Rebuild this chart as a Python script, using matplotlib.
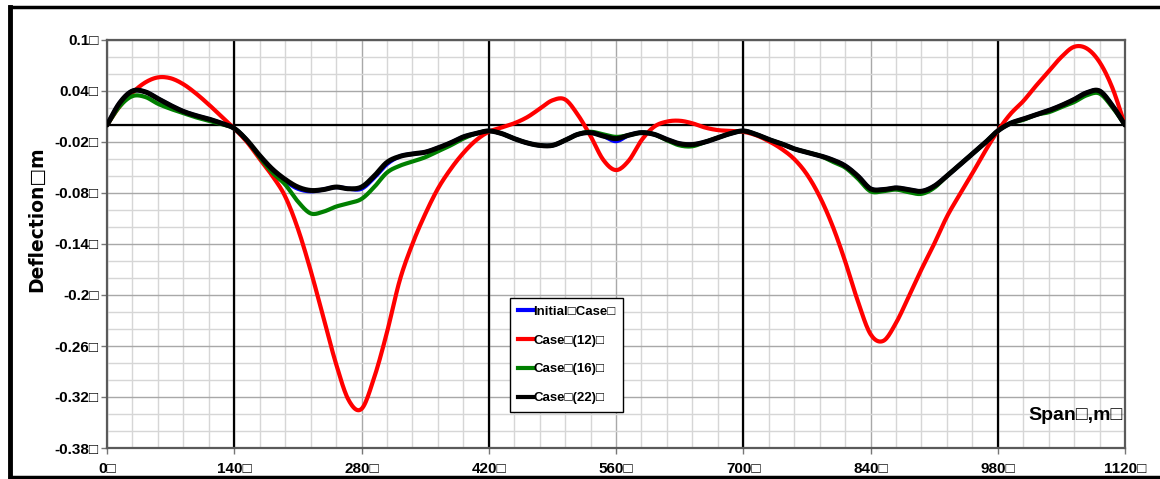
import numpy as np
import matplotlib
matplotlib.use('Agg')
import matplotlib.pyplot as plt
from matplotlib.lines import Line2D
from matplotlib.ticker import MultipleLocator

# span positions (m), every 14 m
span = np.arange(0, 1121, 14)

case_22 = [0.000, 0.026, 0.040, 0.039, 0.031, 0.023, 0.016, 0.011, 0.007, 0.002, -0.004,
           -0.018, -0.036, -0.052, -0.064, -0.073, -0.077, -0.076, -0.073, -0.075, -0.073,
           -0.060, -0.044, -0.037, -0.034, -0.032, -0.027, -0.021, -0.014, -0.010, -0.007,
           -0.010, -0.016, -0.021, -0.024, -0.024, -0.018, -0.011, -0.009, -0.013, -0.016,
           -0.012, -0.009, -0.011, -0.017, -0.022, -0.023, -0.020, -0.015, -0.010, -0.007,
           -0.011, -0.017, -0.022, -0.028, -0.032, -0.036, -0.041, -0.048, -0.060, -0.075,
           -0.076, -0.074, -0.076, -0.078, -0.072, -0.060, -0.047, -0.034, -0.021, -0.007,
           0.002, 0.007, 0.012, 0.017, 0.023, 0.030, 0.038, 0.040, 0.023, 0.000]

initial = list(case_22)
for i, v in {12: -0.038, 13: -0.055, 14: -0.066, 15: -0.075, 16: -0.078,
             20: -0.075, 21: -0.062, 22: -0.046, 40: -0.019}.items():
    initial[i] = v

case_16 = list(case_22)
for i, v in {1: 0.022, 2: 0.034, 3: 0.033, 4: 0.025, 5: 0.019, 6: 0.014, 7: 0.009,
             8: 0.005, 9: 0.001, 12: -0.038, 13: -0.056, 14: -0.070, 15: -0.090,
             16: -0.104, 17: -0.102, 18: -0.096, 19: -0.092, 20: -0.087, 21: -0.073,
             22: -0.056, 23: -0.048, 24: -0.043, 25: -0.038, 26: -0.031, 27: -0.024,
             28: -0.016, 38: -0.008, 39: -0.011, 40: -0.014, 44: -0.018, 45: -0.024,
             46: -0.025, 57: -0.043, 58: -0.050, 59: -0.063, 60: -0.078, 61: -0.078,
             62: -0.076, 63: -0.079, 64: -0.081, 65: -0.074, 72: 0.006, 74: 0.015,
             75: 0.021, 76: 0.027, 77: 0.035, 78: 0.037, 79: 0.021}.items():
    case_16[i] = v

case_12 = [0.000, 0.022, 0.038, 0.050, 0.056, 0.055, 0.048, 0.037, 0.024, 0.010, -0.004,
           -0.020, -0.040, -0.060, -0.084, -0.122, -0.171, -0.226, -0.281, -0.324, -0.334,
           -0.297, -0.244, -0.183, -0.140, -0.105, -0.075, -0.052, -0.033, -0.018, -0.008,
           -0.003, 0.002, 0.009, 0.019, 0.029, 0.030, 0.012, -0.013, -0.041, -0.053,
           -0.042, -0.018, -0.002, 0.004, 0.005, 0.002, -0.003, -0.006, -0.007, -0.008,
           -0.012, -0.019, -0.028, -0.040, -0.058, -0.084, -0.118, -0.160, -0.207, -0.246,
           -0.254, -0.233, -0.202, -0.170, -0.140, -0.108, -0.082, -0.057, -0.031, -0.007,
           0.013, 0.028, 0.046, 0.063, 0.080, 0.092, 0.090, 0.074, 0.044, 0.000]

labels = ['Initial\u25a1Case\u25a1', 'Case\u25a1(12)\u25a1', 'Case\u25a1(16)\u25a1', 'Case\u25a1(22)\u25a1']
colors = ['#0000ff', '#ff0000', '#008000', '#000000']
y_ticks = [0.1, 0.04, -0.02, -0.08, -0.14, -0.2, -0.26, -0.32, -0.38]
y_tick_labels = ['0.1', '0.04', '-0.02', '-0.08', '-0.14', '-0.2', '-0.26', '-0.32', '-0.38']
x_ticks = [0, 140, 280, 420, 560, 700, 840, 980, 1120]
piers = [140, 420, 700, 980]

FONT = ['Liberation Sans Narrow', 'Liberation Sans', 'DejaVu Sans']


def smooth(x, y, n=12):
    # Catmull-Rom curve through the points, like a smoothed Excel line
    y = np.asarray(y, dtype=float)
    p = np.concatenate([[2 * y[0] - y[1]], y, [2 * y[-1] - y[-2]]])
    xs, ys = [], []
    t = np.linspace(0, 1, n, endpoint=False)
    for i in range(len(y) - 1):
        p0, p1, p2, p3 = p[i], p[i + 1], p[i + 2], p[i + 3]
        ys.append(0.5 * (2 * p1 + (-p0 + p2) * t + (2 * p0 - 5 * p1 + 4 * p2 - p3) * t ** 2
                         + (-p0 + 3 * p1 - 3 * p2 + p3) * t ** 3))
        xs.append(x[i] + (x[i + 1] - x[i]) * t)
    xs.append([x[-1]])
    ys.append([y[-1]])
    return np.concatenate(xs), np.concatenate(ys)


fig = plt.figure(figsize=(11.6, 4.79), dpi=100)
ax = fig.add_axes([107 / 1160, 1 - 448 / 479, (1125 - 107) / 1160, (448 - 40) / 479])

ax.set_xlim(0, 1120)
ax.set_ylim(-0.38, 0.1)
ax.xaxis.set_minor_locator(MultipleLocator(28))
ax.yaxis.set_minor_locator(MultipleLocator(0.02))
ax.set_xticks(x_ticks)
ax.set_yticks(y_ticks)
ax.grid(which='minor', color='#d6d6d6', linewidth=1.0)
ax.grid(which='major', color='#a8a8a8', linewidth=1.0)
ax.set_axisbelow(True)
ax.tick_params(which='minor', length=0)
ax.tick_params(axis='x', which='major', length=4, color='#777777', width=1, pad=6)
ax.tick_params(axis='y', which='major', length=4, color='#777777', width=1, pad=2)

ax.set_xticklabels([str(v) + '\u25a1' for v in x_ticks], family=FONT, fontweight='bold', fontsize=11)
ax.set_yticklabels([s + '\u25a1' for s in y_tick_labels], family=FONT, fontweight='bold', fontsize=11)

for s in ax.spines.values():
    s.set_color('#5a5a5a')
    s.set_linewidth(1.6)

for p in piers:
    ax.axvline(p, color='black', linewidth=1.6, zorder=1.5)
ax.axhline(0, color='black', linewidth=1.6, zorder=1.5)

series = [initial, case_12, case_16, case_22]
widths = [3.0, 3.0, 3.0, 3.6]
for vals, c, lw in zip(series, colors, widths):
    sx, sy = smooth(span, vals)
    ax.plot(sx, sy, color=c, linewidth=lw, solid_capstyle='round', zorder=3)

ax.set_ylabel('Deflection\u25a1m', family=['DejaVu Sans'], fontweight='bold', fontsize=13.5)
ax.yaxis.set_label_coords(-0.06, 0.56)
ax.text(0.905, 0.08, 'Span\u25a1,m\u25a1', transform=ax.transAxes, family=FONT,
        fontweight='bold', fontsize=14, ha='left', va='center')

handles = [Line2D([], [], color=c, linewidth=3) for c in colors]
leg = ax.legend(handles, labels, loc='upper left', bbox_to_anchor=(0.396, 0.368),
                prop={'family': FONT, 'weight': 'bold', 'size': 9.5},
                handlelength=1.1, handletextpad=0.05, labelspacing=1.25,
                borderpad=0.6, borderaxespad=0.0, fancybox=False, framealpha=1,
                edgecolor='black')
leg.get_frame().set_linewidth(1.0)

# outer chart frame (right side runs off the picture)
fig.add_artist(Line2D([10 / 1160, 10 / 1160], [1 - 477 / 479, 1 - 7 / 479], color='black', linewidth=3.5))
fig.add_artist(Line2D([10 / 1160, 1.0], [1 - 7 / 479, 1 - 7 / 479], color='black', linewidth=2.5))
fig.add_artist(Line2D([10 / 1160, 1.0], [1 - 477 / 479, 1 - 477 / 479], color='black', linewidth=2.5))

fig.savefig('out.png', dpi=100)
